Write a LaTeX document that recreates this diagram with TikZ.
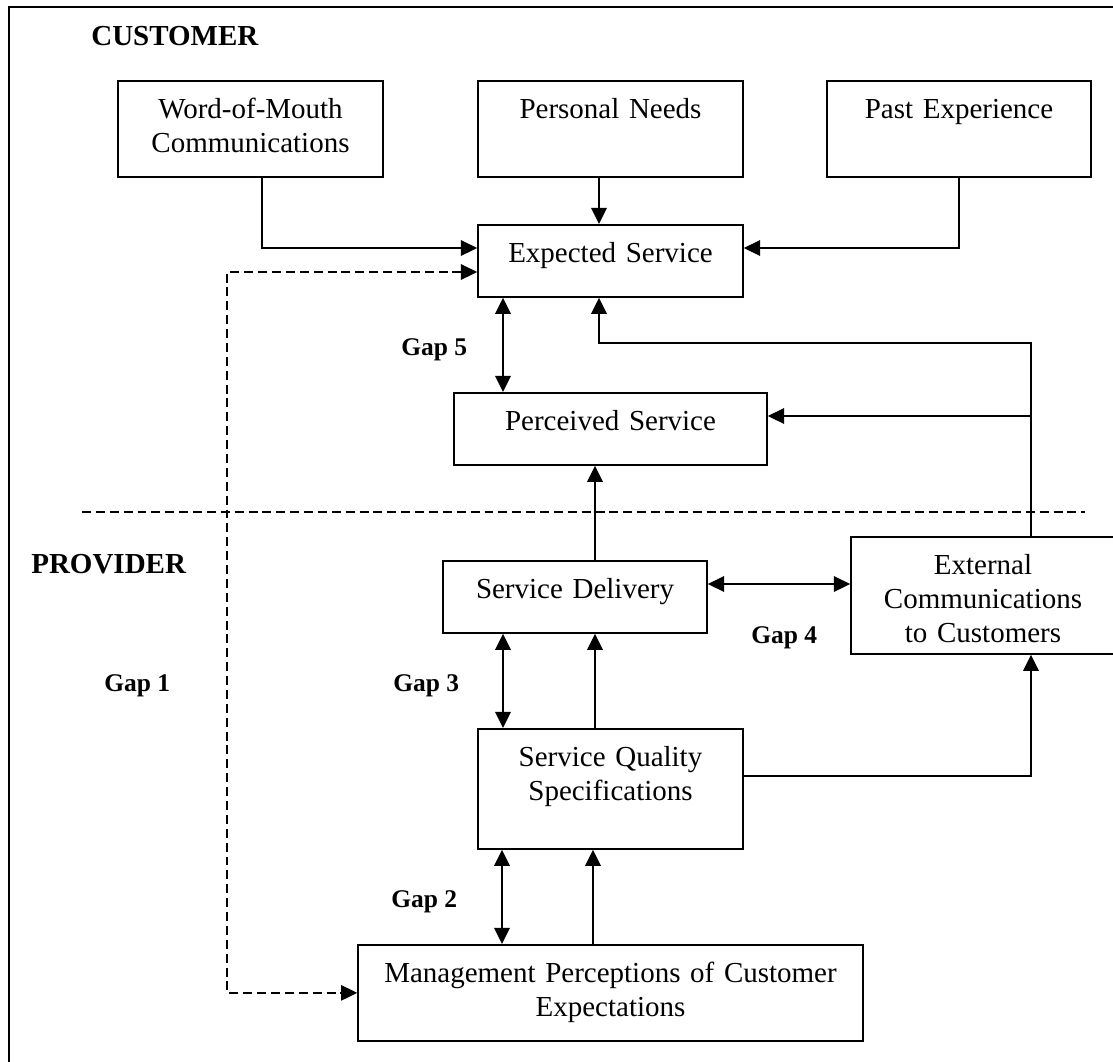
\documentclass[tikz,border=0pt]{standalone}
\usepackage{fontspec}
\setmainfont{Liberation Serif}
\usepackage{tikz}
\usetikzlibrary{calc,arrows.meta}
\newcommand{\boxfont}{\fontsize{16.5}{19.3}\selectfont}
\newcommand{\gapfont}{\fontsize{14.5}{17}\selectfont\bfseries}
\newcommand{\sidefont}{\fontsize{16.5}{19.3}\selectfont\bfseries}
\tikzset{
  box/.style={draw,line width=1pt,inner xsep=0pt,inner ysep=0pt,align=center,
              anchor=north,text height=0.76cm,font=\boxfont},
  arr/.style={line width=1pt,-{Triangle[length=9.2pt,width=8.8pt]}},
  dbl/.style={line width=1pt,{Triangle[length=9.2pt,width=8.8pt]}-{Triangle[length=9.2pt,width=8.8pt]}},
  gapdash/.style={dash pattern=on 5.1pt off 2.8pt},
  gaplbl/.style={font=\gapfont,anchor=base west,inner sep=0pt},
  side/.style={font=\sidefont,anchor=base west,inner sep=0pt},
}
\begin{document}
\begin{tikzpicture}[x=0.02cm,y=-0.02cm]
  \useasboundingbox (0,0) rectangle (1113,1062);
  \draw[line width=1.1pt] (1120,7) -- (9,7) -- (9,1070);
  \draw[line width=1pt,gapdash] (82,512) -- (1085,512);

  % customer side
  \node[side] (cust) at (91,45) {CUSTOMER};
  \node[box,text width=5.30cm,text depth=1.16cm] (wom) at (250.5,80) {Word-of-Mouth\\Communications};
  \node[box,text width=5.30cm,text depth=1.16cm] (pn) at (610.5,80) {Personal Needs};
  \node[box,text width=5.28cm,text depth=1.16cm] (pe) at (959,80) {Past Experience};
  \node[box,text width=5.30cm,text depth=0.68cm] (exp) at (610.5,224) {Expected Service};
  \node[box,text width=6.26cm,text depth=0.68cm] (perc) at (610.5,392) {Perceived Service};

  % provider side
  \node[side] (prov) at (31,573) {PROVIDER};
  \node[box,text width=5.28cm,text depth=0.68cm] (sd) at (575,560) {Service Delivery};
  \node[box,text width=5.28cm,text depth=1.58cm] (ext) at (983,536) {External\\Communications\\to Customers};
  \node[box,text width=5.30cm,text depth=1.64cm] (sqs) at (610.5,728) {Service Quality\\Specifications};
  \node[box,text width=10.10cm,text depth=1.16cm] (mgmt) at (610.5,944) {Management Perceptions of Customer\\Expectations};

  % gap labels
  \node[gaplbl] (g1) at (104,691) {Gap 1};
  \node[gaplbl] (g2) at (391,907) {Gap 2};
  \node[gaplbl] (g3) at (393,691) {Gap 3};
  \node[gaplbl] (g4) at (751,643) {Gap 4};
  \node[gaplbl] (g5) at (401,355) {Gap 5};

  \coordinate (gapone) at (227,272);
  \coordinate (fb) at (1031,343);

  \draw[arr] (wom.south -| 262,0) |- (exp.west |- 0,248);
  \draw[arr] (pn.south -| 599,0) -- (exp.north -| 599,0);
  \draw[arr] (pe.south) |- (exp.east |- 0,248);
  \draw[dbl,gapdash] (exp.west |- gapone) -- (gapone) |- (mgmt.west);
  \draw[dbl] (exp.south -| 503,0) -- (perc.north -| 503,0);
  \draw[arr] (ext.north -| fb) -- (fb) -| (exp.south -| 599,0);
  \draw[arr] (fb |- 0,416) -- (perc.east |- 0,416);
  \draw[arr] (sd.north -| 595,0) -- (perc.south -| 595,0);
  \draw[dbl] (sd.east |- 0,584) -- (ext.west |- 0,584);
  \draw[dbl] (sd.south -| 503,0) -- (sqs.north -| 503,0);
  \draw[arr] (sqs.north -| 595,0) -- (sd.south -| 595,0);
  \draw[arr] (sqs.east |- 0,776) -| (ext.south -| fb);
  \draw[dbl] (sqs.south -| 502,0) -- (mgmt.north -| 502,0);
  \draw[arr] (mgmt.north -| 593,0) -- (sqs.south -| 593,0);
\end{tikzpicture}
\end{document}
